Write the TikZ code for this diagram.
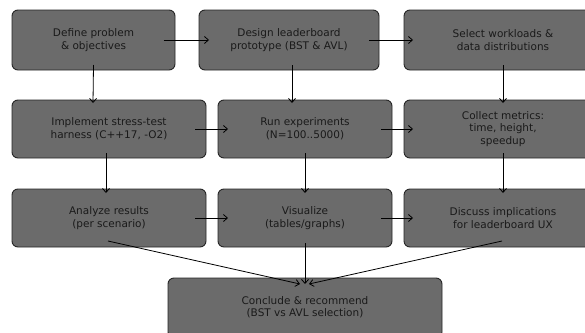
\documentclass[tikz,border=0pt]{standalone}
\usepackage{fontspec}
\setmainfont{DejaVu Sans}
\usetikzlibrary{arrows.meta,calc}
\definecolor{boxfill}{HTML}{6B6B6B}
\definecolor{boxline}{HTML}{262626}
\definecolor{txt}{HTML}{1A1A1A}
\tikzset{
  stepbox/.style={draw=boxline, fill=boxfill, line width=0.9pt, rounded corners=6pt,
    align=center, text=txt, inner sep=0pt, font=\fontsize{10.5}{12.6}\selectfont},
  arr/.style={draw=black, line width=0.8pt, -{Straight Barb[length=4pt,width=7pt]}}
}
\begin{document}
\begin{tikzpicture}[x=1pt,y=-1pt]
\useasboundingbox (0,0) rectangle (585,332);
\fill[white] (0,0) rectangle (585,332);
\clip (0,0) rectangle (585,332);
% row 1
\node[stepbox, minimum width=163pt, minimum height=60pt] (b1) at (93.5,40) {Define problem\\\& objectives};
\node[stepbox, minimum width=180pt, minimum height=60pt] (b2) at (289,40) {Design leaderboard\\prototype (BST \& AVL)};
\node[stepbox, minimum width=198pt, minimum height=60pt] (b3) at (503,40) {Select workloads \&\\data distributions};
% row 2
\node[stepbox, minimum width=194pt, minimum height=58pt] (b4) at (109,129) {Implement stress-test\\harness (C++17, -O2)};
\node[stepbox, minimum width=174pt, minimum height=58pt] (b5) at (305,129) {Run experiments\\(N=100..5000)};
\node[stepbox, minimum width=198pt, minimum height=58pt] (b6) at (503,129) {Collect metrics:\\time, height,\\speedup};
% row 3
\node[stepbox, minimum width=194pt, minimum height=58pt] (b7) at (109,218) {Analyze results\\(per scenario)};
\node[stepbox, minimum width=174pt, minimum height=58pt] (b8) at (305,218) {Visualize\\(tables/graphs)};
\node[stepbox, minimum width=198pt, minimum height=58pt] (b9) at (503,218) {Discuss implications\\for leaderboard UX};
% row 4
\node[stepbox, minimum width=274pt, minimum height=60pt, text depth=0pt] (b10) at (305,308) {};
\node[align=center, text=txt, inner sep=0pt, font=\fontsize{10.5}{12.6}\selectfont] (b10t) at (305,307) {Conclude \& recommend\\(BST vs AVL selection)};
% arrows
\draw[arr] ($(b1.center)+(70,0)$) -- ($(b2.center)+(-80,0)$);
\draw[arr] ($(b2.center)+(80,0)$) -- ($(b3.center)+(-90,0)$);
\draw[arr] ($(b1.center)+(0,25)$) -- ($(b4.center)+(-16,-26)$);
\draw[arr] ($(b2.center)+(3,25)$) -- ($(b5.center)+(-13,-26)$);
\draw[arr] ($(b3.center)+(0,25)$) -- ($(b6.center)+(0,-26)$);
\draw[arr] ($(b4.center)+(86,0)$) -- ($(b5.center)+(-77,0)$);
\draw[arr] ($(b5.center)+(76,0)$) -- ($(b6.center)+(-90,0)$);
\draw[arr] ($(b4.center)+(-3,24)$) -- ($(b7.center)+(-3,-25)$);
\draw[arr] ($(b5.center)+(0,24)$) -- ($(b8.center)+(0,-25)$);
\draw[arr] ($(b6.center)+(0,24)$) -- ($(b9.center)+(0,-25)$);
\draw[arr] ($(b7.center)+(86,0)$) -- ($(b8.center)+(-77,0)$);
\draw[arr] ($(b8.center)+(76,0)$) -- ($(b9.center)+(-90,0)$);
\draw[arr] ($(b7.center)+(-1,23)$) -- ($(b10.center)+(-5,-24)$);
\draw[arr] ($(b8.center)+(0,25)$) -- ($(b10.center)+(0,-24)$);
\draw[arr] ($(b9.center)+(-1,23)$) -- ($(b10.center)+(4,-24)$);
\end{tikzpicture}
\end{document}
